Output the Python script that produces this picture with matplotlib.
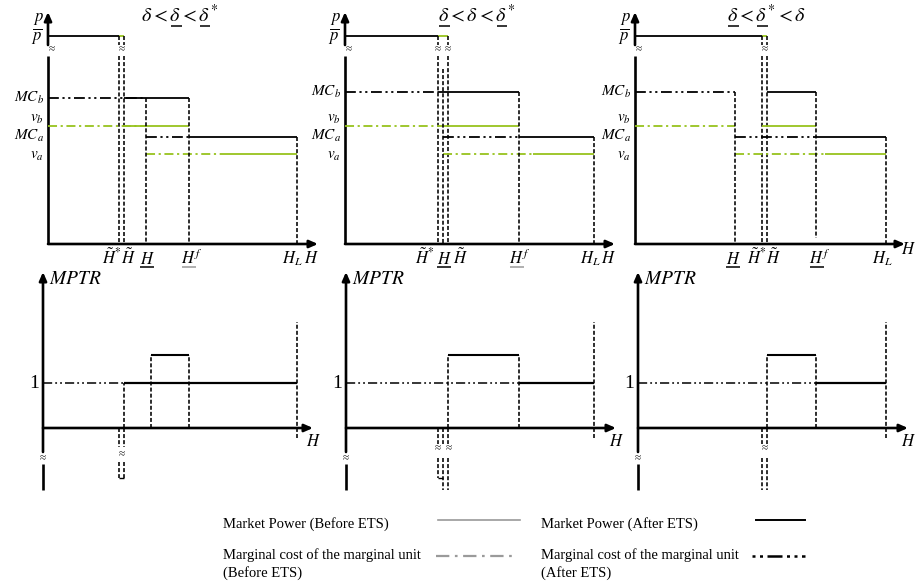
import matplotlib
matplotlib.use("Agg")
import matplotlib.pyplot as plt

plt.rcParams['mathtext.fontset'] = 'stix'
plt.rcParams['font.family'] = ['Liberation Serif', 'DejaVu Serif']

# ---------------- data (schematic units) ----------------
# titles: (full math string, list of (prefix ending at underlined symbol, symbol))
titles = [
    (r"$\delta<\delta<\delta^{*}$", [(r"$\delta<\delta$", r"$\delta$"), (r"$\delta<\delta<\delta$", r"$\delta$")]),
    (r"$\delta<\delta<\delta^{*}$", [(r"$\delta$", r"$\delta$"), (r"$\delta<\delta<\delta$", r"$\delta$")]),
    (r"$\delta<\delta^{*}<\delta$", [(r"$\delta$", r"$\delta$"), (r"$\delta<\delta$", r"$\delta$")]),
]

H_tilde_star = [71, 93, 127]
H_tilde = [76, 103, 132]
H_under = [98, 98, 100]
H_f = [141, 174, 181]
H_L = [249, 249, 251]

p_bar = 208
MC_b = [146, 152, 152]
v_b = [118, 118, 118]
MC_a = [107, 107, 107]
v_a = [90, 90, 90]

# where the before/after segments switch
mcb_dd_end = [98, 93, 100]
mcb_solid_start = [76, 93, 132]
vb_dd_end = [98, 93, 100]
vb_solid_start = [76, 93, 127]
va_solid_start = [179, 188, 190]
hunder_line_top = [146, 175, 152]
hf_line_bottom = [0, 0, 6]

# tick labels: (math string, underline flag)
xtick_labels = [
    [(r"$\tilde{H}^{*}$", 0), (r"$\tilde{H}$", 0), (r"$H$", 1), (r"$H^{f}$", 2), (r"$H_L$", 0)],
    [(r"$\tilde{H}^{*}$", 0), (r"$H$", 1), (r"$\tilde{\tilde{H}}$", 0), (r"$H^{f}$", 2), (r"$H_L$", 0)],
    [(r"$H$", 1), (r"$\tilde{\tilde{H}}^{*}$", 0), (r"$\tilde{\tilde{H}}$", 0), (r"$H^{f}$", 1), (r"$H_L$", 0)],
]
level_labels = [r"$MC_b$", r"$v_b$", r"$MC_a$", r"$v_a$"]

mptr_one = 45
mptr_high = 73
mptr_rect_start = [103, 103, 132]
mptr_dd_end = [76, 174, 181]

legend_labels = ["Market Power (Before ETS)", "Market Power (After ETS)",
                 "Marginal cost of the marginal unit\n(Before ETS)",
                 "Marginal cost of the marginal unit\n(After ETS)"]

# ---------------- layout / style ----------------
W, Hpx = 915, 588
fig = plt.figure(figsize=(9.15, 5.88), dpi=100)
renderer = fig.canvas.get_renderer()

GREEN = '#97c31e'
GRAY = '#9a9a9a'
DASH = (0, (2.5, 1.3))
DD = (0, (6, 2, 1.2, 2, 1.2, 2))
GD = (0, (5, 2, 1.2, 2))
LW = 1.3
DLW = 1.15

top_ox = [48, 345, 635]
top_oy = 244
bot_oy = 428
bot_axis_x = [-5, 1, 3]


def panel_axes(ox, oy, xlim, ylim):
    ax = fig.add_axes([(ox + xlim[0]) / W, (Hpx - oy + ylim[0]) / Hpx,
                       (xlim[1] - xlim[0]) / W, (ylim[1] - ylim[0]) / Hpx])
    ax.set_xlim(*xlim)
    ax.set_ylim(*ylim)
    ax.axis('off')
    ax.patch.set_alpha(0)
    return ax


def hl(ax, y, x0, x1, color='k', ls='-', lw=LW):
    ax.plot([x0, x1], [y, y], color=color, ls=ls, lw=lw, clip_on=False,
            solid_capstyle='butt', dash_capstyle='butt')


def vl(ax, x, y0, y1, color='k', ls=DASH, lw=DLW):
    ax.plot([x, x], [y0, y1], color=color, ls=ls, lw=lw, clip_on=False,
            solid_capstyle='butt', dash_capstyle='butt')


def arrow(ax, x0, y0, x1, y1):
    ax.annotate('', xy=(x1, y1), xytext=(x0, y0),
                arrowprops=dict(arrowstyle='-|>,head_length=0.5,head_width=0.22',
                                lw=1.9, color='k', shrinkA=0, shrinkB=0,
                                mutation_scale=10), annotation_clip=False)


def brk(ax, x, y):
    ax.text(x, y, '≈', fontsize=8, ha='center', va='center', color='#222222')


def text_width(ax, s, fs):
    t = ax.text(0, 0, s, fontsize=fs)
    w = t.get_window_extent(renderer).width
    t.remove()
    return w


def ul_text(ax, xc, yb, full, specs, fs, ul_color='k', ul_off=3.0, ul_lw=1.0):
    """Draw math text centred at xc with baseline yb and underline given symbols.
    Axes are built so that one data unit equals one pixel."""
    t = ax.text(xc, yb, full, fontsize=fs, ha='center', va='baseline')
    wfull = text_width(ax, full, fs)
    left = xc - wfull / 2
    for prefix, sym in specs:
        wp = text_width(ax, prefix, fs)
        ws = text_width(ax, sym, fs)
        hl(ax, yb - ul_off, left + wp - ws + 0.5, left + wp, color=ul_color, lw=ul_lw)
    return t


for i in range(3):
    # ---------- top panel ----------
    ax = panel_axes(top_ox[i], top_oy, (-48, 280), (-25, 240))
    hts, ht, hu, hf, hLL = H_tilde_star[i], H_tilde[i], H_under[i], H_f[i], H_L[i]

    # axes
    ax.plot([0, 0], [0, 188], color='k', lw=1.9, clip_on=False, solid_capstyle='butt')
    arrow(ax, 0, 199, 0, 232)
    brk(ax, 4, 195)
    arrow(ax, 0, 0, 270, 0)

    # p-bar
    hl(ax, p_bar, 0, hts)
    hl(ax, p_bar, hts, ht, color=GREEN)
    for xv in (hts, ht):
        vl(ax, xv, p_bar, 199)
        vl(ax, xv, 188, 0)
    if i == 1:
        brk(ax, hts, 195)
        brk(ax, ht, 195)
    else:
        brk(ax, (hts + ht) / 2, 195)

    # MC_b and v_b
    hl(ax, MC_b[i], 0, mcb_dd_end[i], ls=DD)
    hl(ax, MC_b[i], mcb_solid_start[i], hf)
    hl(ax, v_b[i], 0, vb_dd_end[i], color=GREEN, ls=GD)
    hl(ax, v_b[i], vb_solid_start[i], hf, color=GREEN)
    # MC_a and v_a
    hl(ax, MC_a[i], hu, hf, ls=DD)
    hl(ax, MC_a[i], hf, hLL)
    hl(ax, v_a[i], hu, va_solid_start[i], color=GREEN, ls=GD)
    hl(ax, v_a[i], va_solid_start[i], hLL, color=GREEN)

    # verticals
    vl(ax, hu, hunder_line_top[i], 0)
    vl(ax, hf, MC_b[i], hf_line_bottom[i])
    vl(ax, hLL, MC_a[i], 0)

    # labels
    full, specs = titles[i]
    ul_text(ax, 132, 222, full, specs, 14.5, ul_off=3.5, ul_lw=1.1)
    ax.text(-9, 225, r"$p$", fontsize=12, ha='center', va='center')
    ax.text(-11, 208, r"$\overline{p}$", fontsize=12, ha='center', va='center')
    for lab, yv, dy in zip(level_labels, [MC_b[i], v_b[i], MC_a[i], v_a[i]], [0, 7, 1, -2]):
        ax.text(-4, yv + dy, lab, fontsize=11, ha='right', va='center')

    if i == 0:
        xs = [hts, ht, hu, hf, hLL]
        dx = [-7, 4, 1, 3, -5]
    elif i == 1:
        xs = [hts, hu, ht, hf, hLL]
        dx = [-13, 1, 12, 1, -4]
    else:
        xs = [hu, hts, ht, hf, hLL]
        dx = [-2, -5, 6, 4, -4]
    for (lab, flag), xv, d in zip(xtick_labels[i], xs, dx):
        if flag:
            ul_text(ax, xv + d, -20, lab, [(r"$H$", r"$H$")], 12,
                    ul_color=(GRAY if flag == 2 else 'k'), ul_off=3, ul_lw=1.1)
        else:
            ax.text(xv + d, -20, lab, fontsize=12, ha='center', va='baseline')
    if i == 2:
        ax.text(273, -6, r"$H$", fontsize=12, ha='center', va='center')
    else:
        ax.text(263, -15, r"$H$", fontsize=12, ha='center', va='center')

    # ---------- bottom panel ----------
    bx = panel_axes(top_ox[i], bot_oy, (-48, 280), (-70, 160))
    ax0 = bot_axis_x[i]
    bx.plot([ax0, ax0], [-62, -36], color='k', lw=1.9, clip_on=False, solid_capstyle='butt')
    arrow(bx, ax0, -24, ax0, 156)
    brk(bx, ax0, -30)
    arrow(bx, ax0, 0, ax0 + 270, 0)

    # level 1
    hl(bx, mptr_one, ax0, mptr_dd_end[i], ls=DD, lw=1.1)
    hl(bx, mptr_one, mptr_dd_end[i], hLL, lw=1.6)
    if i == 0:
        vl(bx, ht, 0, mptr_one)
    # rectangle
    vl(bx, mptr_rect_start[i], 0, mptr_high)
    vl(bx, hf, 0, mptr_high)
    hl(bx, mptr_high, mptr_rect_start[i], hf, lw=1.5)
    # H_L line
    vl(bx, hLL, -10, 106)

    # below-axis negative parts
    if i == 0:
        for xv in (hts, ht):
            vl(bx, xv, 0, -19)
            vl(bx, xv, -34, -50)
        hl(bx, -50, hts, ht, lw=1.0)
        brk(bx, (hts + ht) / 2, -26)
    elif i == 1:
        for xv in (hts, hu, ht):
            vl(bx, xv, 0, -16)
        brk(bx, hts, -20)
        brk(bx, ht + 1, -20)
        vl(bx, hts, -30, -50)
        hl(bx, -50, hts, hu, lw=1.0)
        vl(bx, hu, -30, -62)
        vl(bx, ht, -30, -62)
    else:
        for xv in (hts, ht):
            vl(bx, xv, 0, -16)
            vl(bx, xv, -30, -62)
        brk(bx, (hts + ht) / 2, -20)

    bx.text(ax0 + 6, 149, r"$MPTR$", fontsize=14, ha='left', va='center')
    bx.text(ax0 - 9, mptr_one, "1", fontsize=14, ha='center', va='center')
    bx.text(ax0 + 270, -14, r"$H$", fontsize=12, ha='center', va='center')

# ---------------- legend ----------------
lg = fig.add_axes([0, 0, 1, 1])
lg.set_xlim(0, W)
lg.set_ylim(Hpx, 0)
lg.axis('off')
lg.patch.set_alpha(0)
lg.text(223, 524, legend_labels[0], fontsize=10.5, ha='left', va='center')
lg.text(541, 524, legend_labels[1], fontsize=10.5, ha='left', va='center')
lg.text(223, 548, legend_labels[2], fontsize=10.5, ha='left', va='top', linespacing=1.35)
lg.text(541, 548, legend_labels[3], fontsize=10.5, ha='left', va='top', linespacing=1.35)
lg.plot([438, 520], [520, 520], color=GRAY, lw=1.2)
lg.plot([756, 805], [520, 520], color='k', lw=1.4)
lg.plot([436, 515], [556, 556], color=GRAY, lw=1.6, ls=(0, (6, 2.5, 1.2, 2.5)))
lg.plot([752, 805], [556, 556], color='k', lw=1.8, ls=(0, (1.2, 1.8, 1.2, 1.8, 6, 1.8)))

fig.savefig("out.png", dpi=100)
